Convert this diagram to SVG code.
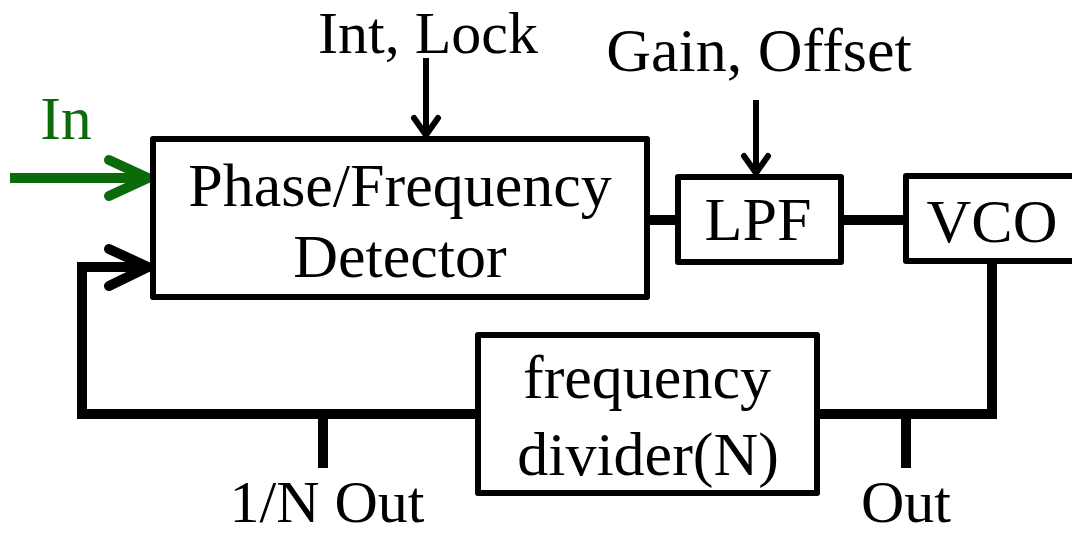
<svg xmlns="http://www.w3.org/2000/svg" width="1072" height="535" viewBox="0 0 1072 535">
  <style>
    .box { fill: #ffffff; stroke: #000000; stroke-width: 6; stroke-linejoin: round; }
    .lbl { font-family: "Liberation Serif", "Times New Roman", serif; font-size: 62px; fill: #000000; text-anchor: middle; }
    .edge { font-size: 60px; }
    .wire { fill: none; stroke: #000000; stroke-width: 10; stroke-linejoin: miter; stroke-linecap: butt; }
    .ctl { fill: none; stroke: #000000; stroke-width: 6; stroke-linecap: butt; }
    .head { fill: none; stroke-linecap: round; stroke-linejoin: round; }
  </style>
  <rect width="1072" height="535" fill="#ffffff"/>

  <!-- connectors -->
  <g id="connectors">
    <!-- PFD to LPF, LPF to VCO -->
    <line class="wire" x1="646" y1="220" x2="678" y2="220"/>
    <line class="wire" x1="841" y1="220" x2="906" y2="220"/>
    <!-- VCO output down to the divider, with Out tap -->
    <path class="wire" d="M992 260 V414 H817"/>
    <line class="wire" x1="906" y1="414" x2="906" y2="468"/>
    <!-- divider output back to the detector, with 1/N Out tap -->
    <path class="wire" d="M478 414 H82 V267 H146"/>
    <line class="wire" x1="323" y1="414" x2="323" y2="468"/>
    <path class="head" stroke="#000000" stroke-width="10" d="M109 249 L148 267 L109 286"/>
    <!-- reference input -->
    <line x1="10" y1="178" x2="144" y2="178" stroke="#0b6b0b" stroke-width="10"/>
    <path class="head" stroke="#0b6b0b" stroke-width="10" d="M109 160 L148 178 L109 196"/>
    <!-- control inputs -->
    <line class="ctl" x1="426" y1="58" x2="426" y2="135"/>
    <path class="head" stroke="#000000" stroke-width="6" d="M414 118 L426 135 L438 118"/>
    <line class="ctl" x1="756" y1="100" x2="756" y2="173"/>
    <path class="head" stroke="#000000" stroke-width="6" d="M744 156 L756 173 L768 156"/>
  </g>

  <g id="pfd">
    <rect class="box" x="153" y="139" width="494" height="158"/>
    <text class="lbl" x="400" y="206">Phase/Frequency</text>
    <text class="lbl" x="400" y="277">Detector</text>
  </g>

  <g id="lpf">
    <rect class="box" x="678" y="177" width="163" height="85"/>
    <text class="lbl" x="758" y="240">LPF</text>
  </g>

  <g id="vco">
    <rect class="box" x="906" y="176" width="180" height="85"/>
    <text class="lbl" x="992" y="242">VCO</text>
  </g>

  <g id="divider">
    <rect class="box" x="478" y="335" width="339" height="158"/>
    <text class="lbl" x="647" y="398">frequency</text>
    <text class="lbl" x="648" y="475">divider(N)</text>
  </g>

  <g id="labels">
    <text class="lbl" x="66" y="139" style="fill:#0b6b0b">In</text>
    <text class="lbl edge" x="428" y="53">Int, Lock</text>
    <text class="lbl" x="759" y="71">Gain, Offset</text>
    <text class="lbl edge" x="327" y="522">1/N Out</text>
    <text class="lbl edge" x="906" y="522">Out</text>
  </g>
</svg>
